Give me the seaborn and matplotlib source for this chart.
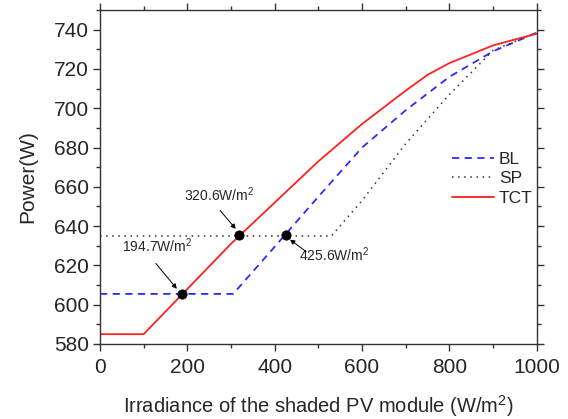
import matplotlib
matplotlib.use('Agg')
import numpy as np
import pandas as pd
import seaborn as sns
import matplotlib.pyplot as plt
from matplotlib.ticker import MultipleLocator

# values
irr_tct = [0, 100, 200, 300, 400, 500, 600, 700, 750, 800, 900, 1000]
p_tct = [585, 585, 608, 631, 652, 673, 692, 709, 717, 723, 732, 738]

irr_bl = [0, 305, 400, 500, 600, 700, 800, 900, 1000]
p_bl = [605.5, 605.5, 629.5, 655, 680, 699, 716, 729, 738.5]

irr_sp = [0, 530, 600, 700, 800, 900, 1000]
p_sp = [635, 635, 653, 682, 707, 729.5, 738.5]

# crossing points and their labels
cross_x = [187, 319, 425]
cross_y = [605.5, 635.3, 635.5]
cross_labels = ['194.7W/m$^2$', '320.6W/m$^2$', '425.6W/m$^2$']

sns.set_style('ticks')
plt.rcParams['font.family'] = ['Liberation Sans', 'DejaVu Sans']
plt.rcParams['mathtext.fontset'] = 'custom'
plt.rcParams['mathtext.rm'] = 'Liberation Sans'

fig, ax = plt.subplots(figsize=(5.68, 4.19), dpi=100)
fig.subplots_adjust(left=0.176, right=0.945, bottom=0.179, top=0.976)

sns.lineplot(x=irr_bl, y=p_bl, ax=ax, color='#2b2bff', lw=1.3,
             linestyle=(0, (4, 3)), label='BL', sort=False)
sns.lineplot(x=irr_sp, y=p_sp, ax=ax, color='#333333', lw=1.1,
             linestyle=(0, (1, 3)), label='SP', sort=False)
sns.lineplot(x=irr_tct, y=p_tct, ax=ax, color='#ff2020', lw=1.3,
             label='TCT', sort=False)

sns.scatterplot(x=cross_x, y=cross_y, ax=ax, color='black', s=45,
                edgecolor='black', zorder=5, legend=False)

# annotations with arrows pointing at the crossings
arrow = dict(arrowstyle='-|>', color='0.45', lw=0.7, fc='black',
             ec='black', mutation_scale=7, shrinkA=0, shrinkB=2)
ax.text(130, 629.8, cross_labels[0], fontsize=10, ha='center', va='center')
ax.annotate('', xy=(180, 607), xytext=(128, 621), arrowprops=arrow)
ax.text(272, 655.8, cross_labels[1], fontsize=10, ha='center', va='center')
ax.annotate('', xy=(315, 637.5), xytext=(275, 648), arrowprops=arrow)
ax.text(537, 625.3, cross_labels[2], fontsize=10, ha='center', va='center')
ax.annotate('', xy=(430, 634), xytext=(472, 627), arrowprops=arrow)

ax.set_xlim(0, 1000)
ax.set_ylim(580, 750)
ax.xaxis.set_major_locator(MultipleLocator(200))
ax.xaxis.set_minor_locator(MultipleLocator(100))
ax.yaxis.set_minor_locator(MultipleLocator(10))
ax.set_yticks(range(580, 741, 20))
ax.tick_params(which='both', direction='out', top=True, right=True,
               labelsize=15, width=1, color='0.2')
ax.tick_params(axis='x', pad=5)
ax.tick_params(axis='y', pad=3)
ax.tick_params(which='major', length=5)
ax.tick_params(which='minor', length=3)
for s in ax.spines.values():
    s.set_linewidth(1.0)
    s.set_color('0.2')

ax.set_xlabel('Irradiance of the shaded PV module (W/m$^2$)', fontsize=14.5, labelpad=12)
ax.set_ylabel('Power(W)', fontsize=15, labelpad=12)

ax.legend(loc='center left', bbox_to_anchor=(0.77, 0.495), frameon=False,
          fontsize=12.5, handlelength=2.4, handletextpad=0.3, labelspacing=0.25)

fig.savefig('out.png', dpi=100)
